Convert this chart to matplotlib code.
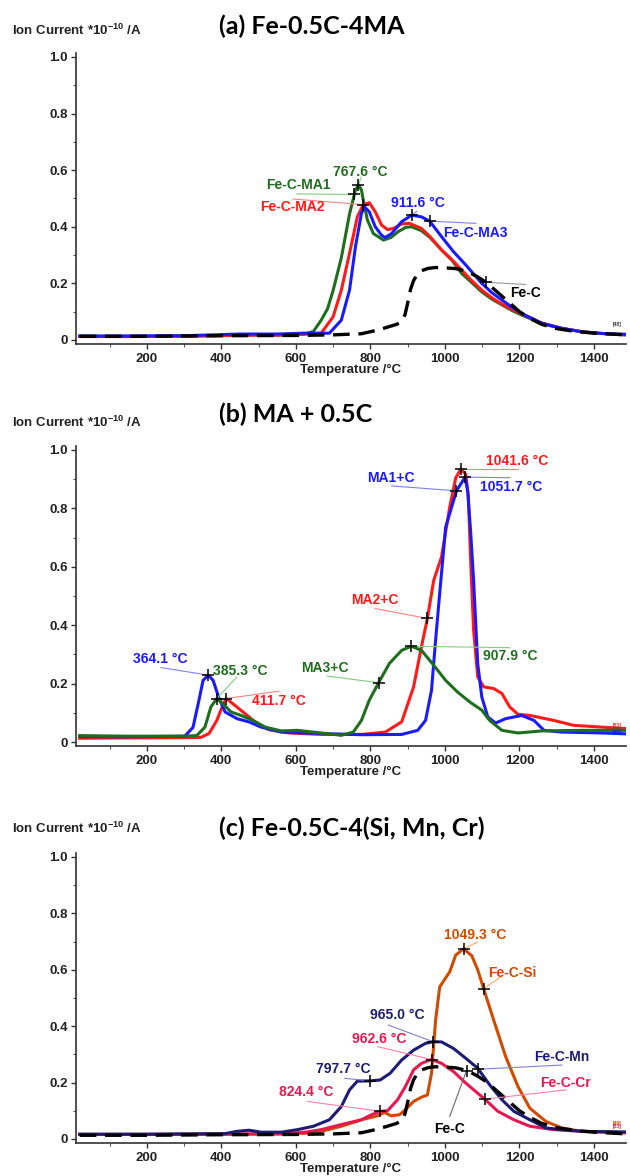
import numpy as np
import matplotlib
matplotlib.use("Agg")
import matplotlib.pyplot as plt
from matplotlib.ticker import MultipleLocator, FixedLocator

plt.rcParams['font.family'] = ['Liberation Sans', 'DejaVu Sans']
plt.rcParams['font.weight'] = 'bold'
plt.rcParams['mathtext.fontset'] = 'custom'
plt.rcParams['mathtext.rm'] = 'Liberation Sans:bold'
plt.rcParams['mathtext.default'] = 'rm'

# ---------------- data ----------------
# Fe-C reference (same sample in panels a and c)
fec_T = [20, 200, 400, 600, 700, 776, 820, 850, 870, 884, 893, 900, 908, 916, 925, 938, 955, 975,
         1000, 1030, 1060, 1085, 1110, 1140, 1170, 1200, 1230, 1260, 1300, 1350, 1400, 1486]
fec_I = [0.013, 0.013, 0.015, 0.016, 0.018, 0.022, 0.035, 0.047, 0.055, 0.065, 0.09, 0.13, 0.18, 0.21,
         0.23, 0.245, 0.253, 0.256, 0.255, 0.252, 0.242, 0.225, 0.204, 0.17, 0.135, 0.1, 0.075, 0.055,
         0.04, 0.03, 0.024, 0.018]

# panel (a) Fe-0.5C-4MA
ma1_T = [20, 150, 300, 400, 450, 550, 620, 647, 668, 685, 700, 722, 744, 760, 768, 776, 781, 792, 808,
         835, 855, 875, 895, 910, 937, 960, 991, 1020, 1045, 1070, 1099, 1125, 1153, 1180, 1206, 1235,
         1260, 1290, 1314, 1368, 1420, 1486]
ma1_I = [0.013, 0.013, 0.014, 0.016, 0.018, 0.017, 0.02, 0.03, 0.07, 0.11, 0.175, 0.29, 0.445, 0.53,
         0.548, 0.53, 0.494, 0.424, 0.376, 0.353, 0.362, 0.383, 0.398, 0.4, 0.386, 0.362, 0.318, 0.28,
         0.235, 0.205, 0.17, 0.145, 0.124, 0.104, 0.088, 0.072, 0.059, 0.048, 0.041, 0.029, 0.023, 0.018]

ma2_T = [20, 150, 300, 400, 450, 550, 620, 668, 700, 722, 744, 765, 781, 797, 813, 830, 846, 862, 884,
         905, 937, 960, 991, 1020, 1045, 1070, 1099, 1125, 1153, 1180, 1206, 1260, 1314, 1368, 1420, 1486]
ma2_I = [0.012, 0.012, 0.013, 0.015, 0.017, 0.017, 0.02, 0.024, 0.082, 0.176, 0.306, 0.435, 0.478,
         0.485, 0.453, 0.406, 0.39, 0.394, 0.41, 0.412, 0.394, 0.365, 0.318, 0.282, 0.247, 0.212,
         0.176, 0.15, 0.127, 0.108, 0.092, 0.06, 0.041, 0.029, 0.023, 0.018]

ma3_T = [20, 150, 300, 400, 450, 550, 620, 690, 722, 744, 760, 776, 784, 797, 813, 830, 840, 857, 884,
         911, 937, 959, 991, 1023, 1056, 1099, 1125, 1153, 1180, 1206, 1260, 1314, 1368, 1420, 1486]
ma3_I = [0.014, 0.014, 0.015, 0.019, 0.021, 0.021, 0.024, 0.024, 0.07, 0.176, 0.33, 0.447, 0.47,
         0.453, 0.4, 0.37, 0.362, 0.376, 0.418, 0.441, 0.435, 0.42, 0.365, 0.312, 0.265, 0.2, 0.168,
         0.141, 0.116, 0.094, 0.059, 0.041, 0.029, 0.023, 0.02]

# panel (b) MA + 0.5C
mac1_T = [20, 150, 302, 324, 340, 351, 365, 378, 394, 410, 442, 474, 507, 561, 668, 776, 884, 927,
          948, 964, 975, 986, 1002, 1031, 1054, 1061, 1069, 1077, 1088, 1099, 1115, 1136, 1163, 1206,
          1239, 1266, 1314, 1422, 1486]
mac1_I = [0.019, 0.018, 0.02, 0.05, 0.143, 0.211, 0.229, 0.211, 0.149, 0.103, 0.08, 0.069, 0.051,
          0.034, 0.029, 0.025, 0.026, 0.04, 0.074, 0.177, 0.349, 0.509, 0.736, 0.86, 0.907, 0.86,
          0.72, 0.554, 0.269, 0.154, 0.086, 0.065, 0.08, 0.091, 0.074, 0.04, 0.034, 0.031, 0.028]

mac2_T = [20, 150, 300, 345, 367, 388, 404, 413, 431, 464, 496, 528, 582, 668, 776, 840, 884, 916,
          937, 953, 970, 991, 1013, 1029, 1043, 1056, 1063, 1069, 1077, 1088, 1104, 1131, 1153, 1174,
          1196, 1228, 1292, 1346, 1422, 1486]
mac2_I = [0.013, 0.014, 0.015, 0.016, 0.029, 0.074, 0.126, 0.149, 0.131, 0.097, 0.063, 0.042, 0.031,
          0.026, 0.026, 0.034, 0.069, 0.189, 0.326, 0.423, 0.554, 0.634, 0.805, 0.904, 0.935, 0.916,
          0.84, 0.62, 0.383, 0.223, 0.189, 0.183, 0.166, 0.12, 0.095, 0.091, 0.074, 0.057, 0.051, 0.046]

mac3_T = [20, 150, 300, 334, 356, 372, 388, 404, 426, 453, 485, 518, 561, 604, 668, 722, 754, 776,
          797, 822, 851, 884, 910, 937, 970, 1002, 1034, 1067, 1099, 1120, 1153, 1196, 1260, 1368, 1486]
mac3_I = [0.022, 0.02, 0.02, 0.022, 0.051, 0.12, 0.149, 0.131, 0.103, 0.091, 0.074, 0.051, 0.038,
          0.04, 0.031, 0.023, 0.034, 0.074, 0.143, 0.203, 0.269, 0.314, 0.328, 0.314, 0.263, 0.211,
          0.171, 0.137, 0.109, 0.074, 0.04, 0.031, 0.038, 0.04, 0.04]

# panel (c) Fe-0.5C-4(Si, Mn, Cr)
si_T = [20, 200, 400, 561, 625, 668, 722, 776, 819, 838, 856, 878, 894, 916, 937, 953, 964, 975, 986,
        1013, 1029, 1050, 1072, 1088, 1104, 1131, 1163, 1196, 1228, 1271, 1314, 1368, 1486]
si_I = [0.016, 0.016, 0.017, 0.018, 0.02, 0.027, 0.045, 0.068, 0.082, 0.094, 0.082, 0.086, 0.104,
        0.133, 0.148, 0.156, 0.233, 0.421, 0.539, 0.593, 0.652, 0.674, 0.65, 0.6, 0.533, 0.421, 0.292,
        0.186, 0.109, 0.062, 0.039, 0.027, 0.022]

mn_T = [20, 200, 410, 442, 474, 507, 561, 604, 647, 690, 722, 744, 765, 799, 826, 853, 884, 916, 948,
        968, 991, 1023, 1056, 1088, 1120, 1153, 1185, 1228, 1271, 1314, 1368, 1486]
mn_I = [0.017, 0.017, 0.019, 0.027, 0.031, 0.024, 0.024, 0.033, 0.045, 0.068, 0.115, 0.174, 0.205,
        0.206, 0.209, 0.233, 0.28, 0.315, 0.339, 0.345, 0.344, 0.321, 0.286, 0.251, 0.192, 0.139,
        0.098, 0.068, 0.039, 0.033, 0.027, 0.025]

cr_T = [20, 200, 400, 560, 625, 668, 722, 776, 803, 827, 846, 873, 894, 916, 937, 964, 991, 1023,
        1056, 1107, 1142, 1185, 1228, 1292, 1368, 1486]
cr_I = [0.016, 0.016, 0.017, 0.018, 0.024, 0.033, 0.051, 0.068, 0.086, 0.098, 0.1, 0.139, 0.186,
        0.245, 0.268, 0.282, 0.268, 0.239, 0.198, 0.141, 0.098, 0.068, 0.045, 0.033, 0.027, 0.022]

# ---------------- layout ----------------
fig = plt.figure(figsize=(6.3, 11.76), dpi=100)

panels = [
    # title, axes rect, title baseline y, ylabel baseline y
    ("(a) Fe-0.5C-4MA", [0.1206, 0.7073, 0.8731, 0.2479], 0.971, 0.970),
    ("(b) MA + 0.5C", [0.1206, 0.3653, 0.8731, 0.2558], 0.641, 0.637),
    ("(c) Fe-0.5C-4(Si, Mn, Cr)", [0.1206, 0.0279, 0.8731, 0.2470], 0.289, 0.2917),
]

series = [
    [(ma1_T, ma1_I, '#1e6e1e', '-'), (ma2_T, ma2_I, '#ff1a1a', '-'),
     (ma3_T, ma3_I, '#1a1aff', '-'), (fec_T, fec_I, 'black', '--')],
    [(mac2_T, mac2_I, '#ff1a1a', '-'), (mac1_T, mac1_I, '#1a1aff', '-'),
     (mac3_T, mac3_I, '#1e6e1e', '-')],
    [(si_T, si_I, '#d24a00', '-'), (cr_T, cr_I, '#e8174f', '-'),
     (mn_T, mn_I, '#1c1c74', '-'), (fec_T, fec_I, 'black', '--')],
]

# annotations: text, color, text position, series index, cross temperature, leader end, leader colour
notes = [
    [("767.6 °C", '#1e6e1e', (772, 0.594), 0, 768, (775, 0.575), '#7fcf7f'),
     ("Fe-C-MA1", '#1e6e1e', (606, 0.548), 0, 757, (603, 0.516), '#7fcf7f'),
     ("Fe-C-MA2", '#ff1a1a', (590, 0.47), 1, 781, (593, 0.498), '#ff8080'),
     ("911.6 °C", '#1a1aff', (927, 0.484), 2, 911, (925, 0.455), '#8080ff'),
     ("Fe-C-MA3", '#1a1aff', (1083, 0.378), 2, 959, (1083, 0.412), '#8080ff'),
     ("Fe-C", 'black', (1217, 0.166), 3, 1110, (1217, 0.196), '#999999')],
    [("1041.6 °C", '#ff1a1a', (1193, 0.962), 0, 1043, (1196, 0.935), '#ff8080'),
     ("1051.7 °C", '#1a1aff', (1177, 0.873), 1, 1054, (1174, 0.905), '#8080ff'),
     ("MA1+C", '#1a1aff', (855, 0.904), 1, 1031, (857, 0.877), '#8080ff'),
     ("MA2+C", '#ff1a1a', (813, 0.488), 0, 953, (813, 0.457), '#ff8080'),
     ("907.9 °C", '#1e6e1e', (1174, 0.294), 2, 910, (1174, 0.323), '#7fcf7f'),
     ("MA3+C", '#1e6e1e', (679, 0.255), 2, 822, (684, 0.226), '#7fcf7f'),
     ("364.1 °C", '#1a1aff', (236, 0.283), 1, 365, (238, 0.255), '#8080ff'),
     ("385.3 °C", '#1e6e1e', (450, 0.243), 2, 388, (442, 0.223), '#7fcf7f'),
     ("411.7 °C", '#ff1a1a', (555, 0.141), 0, 413, (555, 0.174), '#ff8080')],
    [("1049.3 °C", '#d24a00', (1081, 0.723), 0, 1050, (1087, 0.698), '#f5a860'),
     ("Fe-C-Si", '#d24a00', (1180, 0.589), 0, 1104, (1150, 0.575), '#f5a860'),
     ("965.0 °C", '#1c1c74', (872, 0.441), 2, 968, (848, 0.404), '#7f7fd8'),
     ("962.6 °C", '#e8174f', (823, 0.356), 1, 966, (820, 0.327), '#ff7fa8'),
     ("797.7 °C", '#1c1c74', (727, 0.247), 2, 799, (731, 0.215), '#7f7fd8'),
     ("824.4 °C", '#e8174f', (627, 0.166), 1, 827, (631, 0.133), '#ff7fa8'),
     ("Fe-C-Mn", '#1c1c74', (1314, 0.292), 2, 1090, (1314, 0.262), '#7f7fd8'),
     ("Fe-C-Cr", '#e8174f', (1324, 0.2), 1, 1107, (1325, 0.174), '#ff7fa8'),
     ("Fe-C", 'black', (1013, 0.035), 3, 1058, (1013, 0.08), '#666666')],
]

tags = [[("[48]", '#333333')], [("[53]", '#ff1a1a'), ("[55]", '#1e6e1e'), ("[55]", '#1a1aff')],
        [("[49]", '#d24a00'), ("[53]", '#e8174f')]]

for (title, rect, ty, ly), ser, nts, tg in zip(panels, series, notes, tags):
    ax = fig.add_axes(rect)
    for T, I, c, ls in ser:
        if ls == '--':
            ax.plot(T, I, color=c, lw=2.4, ls=(0, (5, 2.6)), zorder=3)
        else:
            ax.plot(T, I, color=c, lw=2.2, zorder=2)
    for txt, c, (tx, tyv), si, ct, (lx, lyv), lc in nts:
        T, I = ser[si][0], ser[si][1]
        cy = np.interp(ct, T, I)
        ax.plot([lx, ct], [lyv, cy], color=lc, lw=0.8, zorder=4)
        ax.plot(ct, cy, marker='+', color='black', ms=8, mew=1.1, zorder=5)
        ax.text(tx, tyv, txt, color=c, fontsize=10, ha='center', va='center', zorder=6)
    for k, (t, c) in enumerate(tg):
        ax.text(1462, 0.055 - 0.012 * k, t, color=c, fontsize=3.5, ha='center', va='center')

    ax.set_xlim(10, 1486)
    ax.set_ylim(-0.015, 1.015)
    ax.xaxis.set_major_locator(FixedLocator([200, 400, 600, 800, 1000, 1200, 1400]))
    ax.xaxis.set_minor_locator(MultipleLocator(100))
    ax.yaxis.set_major_locator(FixedLocator([0, 0.2, 0.4, 0.6, 0.8, 1.0]))
    ax.yaxis.set_minor_locator(MultipleLocator(0.1))
    ax.set_yticklabels(["0", "0.2", "0.4", "0.6", "0.8", "1.0"])
    ax.tick_params(which='major', length=3.5, width=1, labelsize=9.5, pad=2.5, colors='#333333',
                   labelcolor='#222222')
    ax.tick_params(which='minor', length=2.5, width=0.8, colors='#555555')
    for s in ['top', 'right']:
        ax.spines[s].set_visible(False)
    for s in ['left', 'bottom']:
        ax.spines[s].set_color('#333333')
        ax.spines[s].set_linewidth(1.2)
    ax.set_xlabel("Temperature /°C", fontsize=9.5, fontweight='bold', labelpad=-0.5,
                  color='#222222')

    fig.text(0.348, ty, title, family=['Lato', 'DejaVu Sans'], fontsize=18, fontweight='bold',
             ha='left', va='baseline')
    fig.text(0.019, ly, r"Ion Current *10$^{-10}$ /A", fontsize=9.5, ha='left', va='baseline',
             color='#222222')

fig.savefig("out.png", dpi=100)
